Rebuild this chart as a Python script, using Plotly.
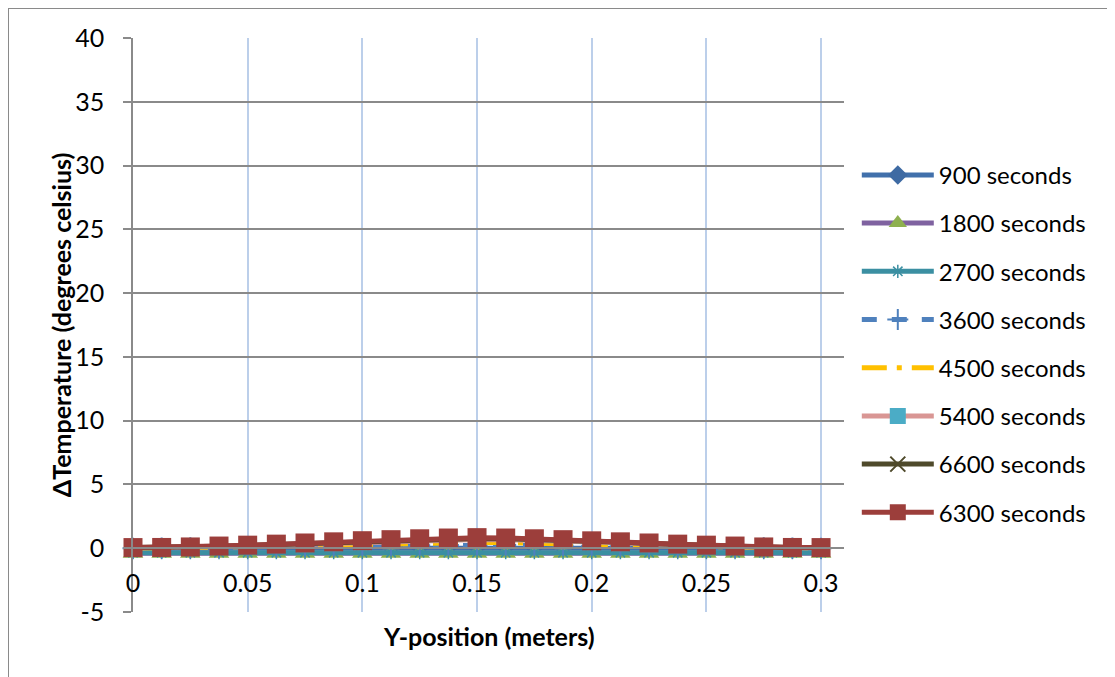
import plotly.graph_objects as go

# ---- data ----
y_position = [0, 0.0125, 0.025, 0.0375, 0.05, 0.0625, 0.075, 0.0875, 0.1, 0.1125, 0.125, 0.1375,
              0.15, 0.1625, 0.175, 0.1875, 0.2, 0.2125, 0.225, 0.2375, 0.25, 0.2625, 0.275, 0.2875, 0.3]

dt_900 = [0.0, 0.0, 0.01, 0.02, 0.03, 0.04, 0.05, 0.06, 0.07, 0.08, 0.08, 0.09, 0.09,
          0.09, 0.08, 0.08, 0.07, 0.06, 0.05, 0.04, 0.03, 0.02, 0.01, 0.0, 0.0]
dt_1800 = [-0.4, -0.4, -0.4, -0.4, -0.4, -0.4, -0.4, -0.4, -0.4, -0.4, -0.4, -0.4, -0.4,
           -0.4, -0.4, -0.4, -0.4, -0.4, -0.4, -0.4, -0.4, -0.4, -0.4, -0.4, -0.4]
dt_2700 = [-0.35, -0.35, -0.35, -0.35, -0.35, -0.35, -0.35, -0.35, -0.35, -0.35, -0.35, -0.35, -0.35,
           -0.35, -0.35, -0.35, -0.35, -0.35, -0.35, -0.35, -0.35, -0.35, -0.35, -0.35, -0.35]
dt_3600 = [0.0, 0.01, 0.03, 0.05, 0.07, 0.1, 0.13, 0.16, 0.19, 0.21, 0.23, 0.25, 0.25,
           0.25, 0.23, 0.21, 0.19, 0.16, 0.13, 0.1, 0.07, 0.05, 0.03, 0.01, 0.0]
dt_4500 = [0.02, 0.03, 0.05, 0.08, 0.12, 0.17, 0.22, 0.27, 0.32, 0.37, 0.41, 0.44, 0.45,
           0.44, 0.41, 0.37, 0.32, 0.27, 0.22, 0.17, 0.12, 0.08, 0.05, 0.03, 0.02]
dt_5400 = [0.04, 0.05, 0.08, 0.13, 0.19, 0.26, 0.34, 0.42, 0.5, 0.57, 0.63, 0.67, 0.69,
           0.67, 0.63, 0.57, 0.5, 0.42, 0.34, 0.26, 0.19, 0.13, 0.08, 0.05, 0.04]
dt_6600 = [0.05, 0.06, 0.09, 0.15, 0.22, 0.29, 0.38, 0.46, 0.55, 0.62, 0.69, 0.74, 0.77,
           0.74, 0.69, 0.62, 0.55, 0.46, 0.38, 0.29, 0.22, 0.15, 0.09, 0.06, 0.05]
dt_6300 = [0.05, 0.06, 0.1, 0.17, 0.24, 0.32, 0.41, 0.5, 0.59, 0.67, 0.74, 0.8, 0.83,
           0.8, 0.74, 0.67, 0.58, 0.5, 0.41, 0.32, 0.24, 0.17, 0.1, 0.06, 0.05]

series_names = ["900 seconds", "1800 seconds", "2700 seconds", "3600 seconds",
                "4500 seconds", "5400 seconds", "6600 seconds", "6300 seconds"]
series_values = [dt_900, dt_1800, dt_2700, dt_3600, dt_4500, dt_5400, dt_6600, dt_6300]

x_ticks = [0, 0.05, 0.1, 0.15, 0.2, 0.25, 0.3]
x_tick_labels = ["0", "0.05", "0.1", "0.15", "0.2", "0.25", "0.3"]
y_ticks = [-5, 0, 5, 10, 15, 20, 25, 30, 35, 40]
y_tick_labels = ["-5", "0", "5", "10", "15", "20", "25", "30", "35", "40"]

# ---- styles ----
styles = [
    dict(line=dict(color="#4170AB", width=5),
         marker=dict(symbol="diamond", size=15, color="#3E6AA3")),
    dict(line=dict(color="#7F62A0", width=5),
         marker=dict(symbol="triangle-up", size=18, color="#8EB04F")),
    dict(line=dict(color="#3B8FA2", width=5),
         marker=dict(symbol="asterisk-open", size=11, line=dict(color="#3B8FA2", width=1.5))),
    dict(line=dict(color="#4F81BD", width=5, dash="dash"),
         marker=dict(symbol="cross-thin-open", size=15, line=dict(color="#4F81BD", width=2))),
    dict(line=dict(color="#FFC000", width=5, dash="longdashdot"),
         marker=dict(symbol="circle", size=1, color="#FFC000")),
    dict(line=dict(color="#D99694", width=5),
         marker=dict(symbol="square", size=17, color="#4BACC6")),
    dict(line=dict(color="#4F4A2B", width=5),
         marker=dict(symbol="x-thin-open", size=15, line=dict(color="#95B3D7", width=2))),
    dict(line=dict(color="#9C3E3B", width=5),
         marker=dict(symbol="square", size=19, color="#9C3E3B")),
]

FONT = "Lato, 'Open Sans', sans-serif"

fig = go.Figure()
for i, (name, vals, st) in enumerate(zip(series_names, series_values, styles)):
    fig.add_trace(go.Scatter(
        x=y_position, y=vals, name=name, mode="lines+markers",
        line=st["line"], marker=st["marker"], legendgroup=f"g{i}",
        cliponaxis=False,
    ))

grid_gray = "#8A8A8A"
fig.update_layout(
    width=1115, height=677,
    margin=dict(l=125, r=279, t=30, b=73),
    paper_bgcolor="white", plot_bgcolor="white",
    font=dict(family=FONT, size=24, color="black"),
    showlegend=True,
    legend=dict(x=1.018, xanchor="left", y=0.80, yanchor="top",
                font=dict(family=FONT, size=24), tracegroupgap=14,
                itemwidth=72, bgcolor="rgba(0,0,0,0)"),
    xaxis=dict(range=[0, 0.31], tickvals=x_ticks, ticktext=x_tick_labels,
               showgrid=True, gridcolor="#BCCFEA", gridwidth=1.5,
               showline=True, linecolor=grid_gray, linewidth=1.5,
               zeroline=False, ticks="", anchor="free", position=5 / 45,
               ticklabelstandoff=13, tickfont=dict(size=25)),
    yaxis=dict(range=[-5, 40], tickvals=y_ticks, ticktext=y_tick_labels,
               showgrid=True, gridcolor=grid_gray, gridwidth=1.5,
               showline=True, linecolor=grid_gray, linewidth=1.5,
               zeroline=False, ticks="outside", ticklen=8, tickcolor=grid_gray, tickwidth=1.5,
               ticklabelstandoff=14, tickfont=dict(size=25)),
    annotations=[
        dict(text="<b>Y-position (meters)</b>", xref="paper", yref="paper",
             x=0.5, y=-0.042, xanchor="center", yanchor="middle", showarrow=False,
             font=dict(family=FONT, size=25)),
        dict(text="<b>ΔTemperature (degrees celsius)</b>", xref="paper", yref="paper",
             x=-0.101, y=0.5, xanchor="center", yanchor="middle", showarrow=False,
             textangle=-90, font=dict(family=FONT, size=25)),
    ],
    shapes=[
        dict(type="rect", xref="paper", yref="paper", x0=-0.1758, x1=1.45, y0=-0.25, y1=1.0523,
             line=dict(color="#8A8A8A", width=2), fillcolor="rgba(0,0,0,0)", layer="below"),
    ],
)

fig.write_html("out.html")
